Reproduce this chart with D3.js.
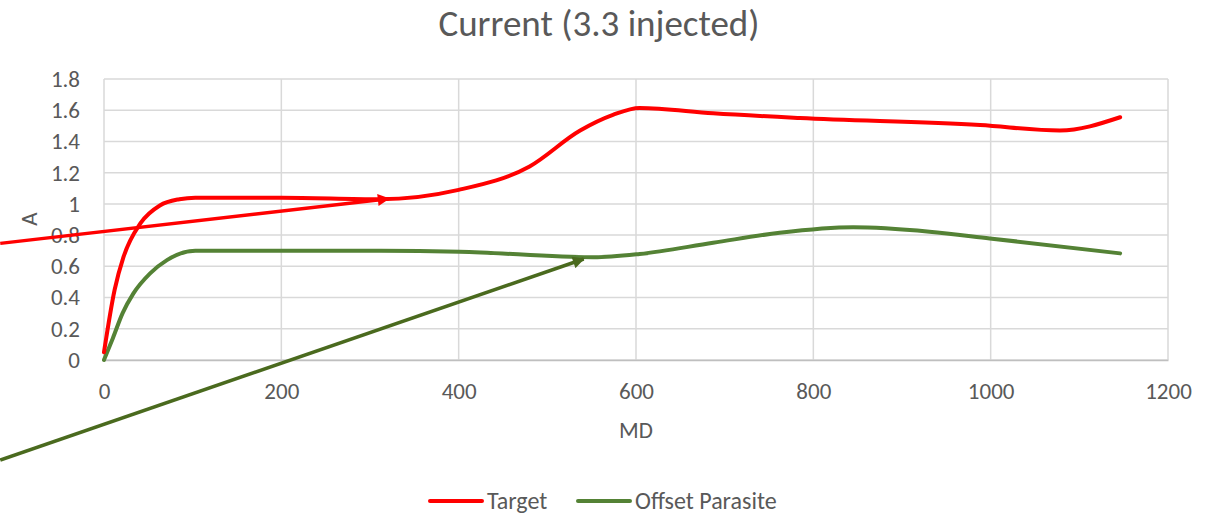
<!DOCTYPE html>
<html>
<head>
<meta charset="utf-8">
<script src="https://cdn.jsdelivr.net/npm/d3@7"></script>
<style>
  body { margin: 0; background: #fff; }
  svg text { font-family: Calibri, Carlito, Lato, "Open Sans", sans-serif; fill: #595959; }
</style>
</head>
<body>
<svg id="chart" width="1213" height="515"></svg>
<script>
// values
const targetMD = [0, 12, 22, 41, 63, 85, 103, 200, 311, 400, 480, 537, 574, 604, 687, 785, 988, 1078, 1146];
const targetA = [0.05, 0.45, 0.66, 0.875, 0.99, 1.03, 1.04, 1.04, 1.03, 1.09, 1.24, 1.47, 1.57, 1.615, 1.58, 1.55, 1.505, 1.47, 1.555];

const parasiteMD = [0, 10, 21, 33, 52, 71, 103, 311, 401, 552, 604, 687, 762, 845, 931, 999, 1146];
const parasiteA = [0, 0.14, 0.3, 0.425, 0.555, 0.64, 0.70, 0.70, 0.694, 0.658, 0.679, 0.751, 0.815, 0.85, 0.822, 0.779, 0.683];

const xTicks = [0, 200, 400, 600, 800, 1000, 1200];
const yTicks = [0, 0.2, 0.4, 0.6, 0.8, 1, 1.2, 1.4, 1.6, 1.8];

// hand drawn arrows, start/end in data units
const redArrow = [[-117, 0.747], [321, 1.033]];
const greenArrow = [[-117, -0.641], [541, 0.647]];

const svg = d3.select('#chart');
const width = 1213, height = 515;
const margin = { top: 79, right: 45, bottom: 155, left: 104 };
const w = width - margin.left - margin.right;
const h = height - margin.top - margin.bottom;

const x = d3.scaleLinear().domain([0, 1200]).range([0, w]);
const y = d3.scaleLinear().domain([0, 1.8]).range([h, 0]);

const defs = svg.append('defs');
function marker(id, color) {
  defs.append('marker')
    .attr('id', id)
    .attr('viewBox', '0 0 10 10')
    .attr('refX', 9).attr('refY', 5)
    .attr('markerUnits', 'userSpaceOnUse')
    .attr('markerWidth', 14).attr('markerHeight', 12)
    .attr('orient', 'auto')
    .append('path')
    .attr('d', 'M0,0 L10,5 L0,10 Z')
    .attr('fill', color);
}
marker('headRed', '#ff0000');
marker('headGreen', '#4a6a1e');

const g = svg.append('g').attr('transform', `translate(${margin.left},${margin.top})`);

// gridlines
g.append('g')
  .selectAll('line.h')
  .data(yTicks)
  .join('line')
  .attr('x1', 0).attr('x2', w)
  .attr('y1', d => y(d)).attr('y2', d => y(d))
  .attr('stroke', '#d9d9d9').attr('stroke-width', 1.5);
g.append('g')
  .selectAll('line.v')
  .data(xTicks)
  .join('line')
  .attr('x1', d => x(d)).attr('x2', d => x(d))
  .attr('y1', 0).attr('y2', h)
  .attr('stroke', '#d9d9d9').attr('stroke-width', 1.5);

// axes (labels only, Excel style)
const xAxis = g.append('g')
  .attr('transform', `translate(0,${h})`)
  .call(d3.axisBottom(x).tickValues(xTicks).tickSize(0).tickPadding(23).tickFormat(d3.format('d')));
xAxis.select('.domain').attr('stroke', '#bfbfbf').attr('stroke-width', 1.5);
xAxis.selectAll('text').attr('font-size', 23);

const yAxis = g.append('g')
  .call(d3.axisLeft(y).tickValues(yTicks).tickSize(0).tickPadding(24).tickFormat(d => d));
yAxis.select('.domain').remove();
yAxis.selectAll('text').attr('font-size', 23);

// series
const line = d3.line()
  .curve(d3.curveMonotoneX)
  .x(d => x(d[0]))
  .y(d => y(d[1]));

g.append('path')
  .datum(d3.zip(parasiteMD, parasiteA))
  .attr('d', line)
  .attr('fill', 'none')
  .attr('stroke', '#548235')
  .attr('stroke-width', 4)
  .attr('stroke-linecap', 'round');

g.append('path')
  .datum(d3.zip(targetMD, targetA))
  .attr('d', line)
  .attr('fill', 'none')
  .attr('stroke', '#ff0000')
  .attr('stroke-width', 4)
  .attr('stroke-linecap', 'round');

// arrows
const straight = d3.line().x(d => x(d[0])).y(d => y(d[1]));
g.append('path')
  .datum(redArrow)
  .attr('d', straight)
  .attr('stroke', '#ff0000')
  .attr('stroke-width', 3.5)
  .attr('marker-end', 'url(#headRed)');
g.append('path')
  .datum(greenArrow)
  .attr('d', straight)
  .attr('stroke', '#4a6a1e')
  .attr('stroke-width', 3.5)
  .attr('marker-end', 'url(#headGreen)');

// title and axis titles
svg.append('text')
  .attr('x', 599).attr('y', 36)
  .attr('text-anchor', 'middle')
  .attr('font-size', 37)
  .text('Current (3.3 injected)');

svg.append('text')
  .attr('x', margin.left + w / 2).attr('y', 438)
  .attr('text-anchor', 'middle')
  .attr('font-size', 23)
  .text('MD');

svg.append('text')
  .attr('transform', `translate(37,219) rotate(-90)`)
  .attr('text-anchor', 'middle')
  .attr('font-size', 23)
  .text('A');

// legend
const legend = [
  { name: 'Target', color: '#ff0000', x: 430 },
  { name: 'Offset Parasite', color: '#548235', x: 578 }
];
const lg = svg.append('g').selectAll('g').data(legend).join('g')
  .attr('transform', d => `translate(${d.x},501)`);
lg.append('line')
  .attr('x1', 0).attr('x2', 52)
  .attr('stroke', d => d.color)
  .attr('stroke-width', 4)
  .attr('stroke-linecap', 'round');
lg.append('text')
  .attr('x', 57).attr('y', 8)
  .attr('font-size', 24)
  .text(d => d.name);
</script>
</body>
</html>
